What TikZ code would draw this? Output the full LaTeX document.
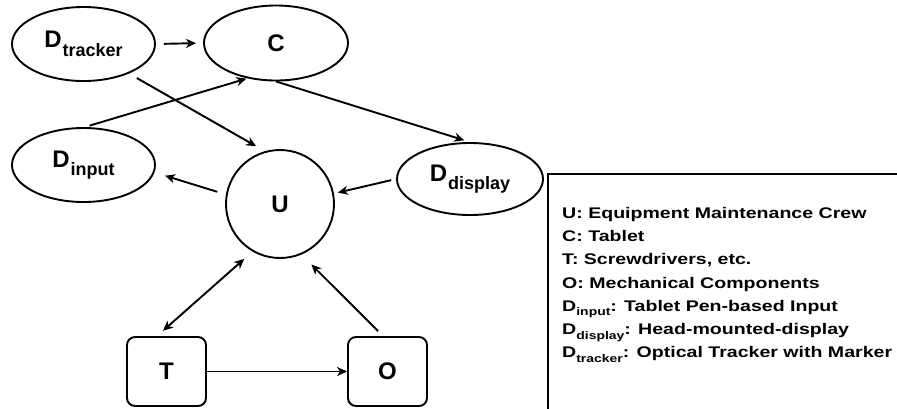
\documentclass[tikz,border=0pt]{standalone}
\usepackage{fontspec}
\setmainfont{Liberation Sans}
\newfontfamily\legfont[FakeStretch=1.27]{Liberation Sans}
\usetikzlibrary{shapes.geometric,arrows.meta}

% node label with a lowered subscript
\newcommand\nodesub[2]{#1\hspace{1pt}\raisebox{-8.5pt}{\fontsize{18}{18}\selectfont #2}}
% legend entry with a lowered subscript
\newcommand\legsub[2]{#1\raisebox{-4.5pt}{\fontsize{11}{11}\selectfont #2}}

\tikzset{
  lw/.style={line width=1.9pt},
  oval/.style={ellipse, draw, lw, inner sep=0pt, font=\fontsize{24}{24}\selectfont\bfseries},
  person/.style={circle, draw, lw, inner sep=0pt, minimum size=108pt, font=\fontsize{24}{24}\selectfont\bfseries},
  thing/.style={rectangle, rounded corners=8pt, draw, lw, inner sep=0pt,
    minimum width=79pt, minimum height=69pt, font=\fontsize{24}{24}\selectfont\bfseries},
  link/.style={lw, -{Stealth[length=10pt,width=9pt,inset=3pt]}},
  twoway/.style={lw, {Stealth[length=10pt,width=9pt,inset=3pt]}-{Stealth[length=10pt,width=9pt,inset=3pt]}},
  legline/.style={anchor=base west, inner sep=0pt, font=\legfont\bfseries\fontsize{15.4}{18}\selectfont},
}

\begin{document}
\begin{tikzpicture}[x=1pt, y=-1pt]
\useasboundingbox (0,0) rectangle (897,408);

% components
\node[oval, minimum width=143pt, minimum height=74pt] (dtr) at (83.5,44) {\nodesub{D}{tracker}};
\node[oval, minimum width=144pt, minimum height=75pt] (c) at (276,43) {C};
\node[oval, minimum width=143pt, minimum height=74pt] (di) at (83.5,165) {\nodesub{D}{input}};
\node[oval, minimum width=146pt, minimum height=72pt] (dd) at (470,179) {\nodesub{D}{display}};
\node[person] (u) at (280,204) {U};
\node[thing] (t) at (166.5,371.5) {T};
\node[thing] (o) at (387.5,371.5) {O};

% relations
\draw[link, shorten <=8pt, shorten >=7pt] (dtr.east) -- (c.west);
\draw[link, shorten <=9pt, shorten >=10pt] (dtr.-33) -- (u.106);
\draw[link, shorten <=5pt, shorten >=1pt] (di.88) -- (c.231);
\draw[link, shorten >=6pt] (c.south) -- (dd.north);
\draw[link, shorten <=9pt, shorten >=11pt] (u.170) -- (di.-6);
\draw[link, shorten <=5pt, shorten >=4pt] (dd.west) -- (u.11);
\draw[twoway, shorten <=8pt, shorten >=11pt] ([xshift=-9.5pt]t.north) -- (u.240);
\draw[link, shorten <=7pt, shorten >=14pt] ([xshift=-4.5pt]o.north) -- (u.-67);
\draw[link] (t.east) -- (o.west);

% legend
\node[draw, lw, anchor=north west, minimum width=380pt, minimum height=260pt, inner sep=0pt] (legend) at (547,173) {};
\node[legline] (l1) at (562,218.5) {U: Equipment Maintenance Crew};
\node[legline] (l2) at (562,241.7) {C: Tablet};
\node[legline] (l3) at (562,264.9) {T: Screwdrivers, etc.};
\node[legline] (l4) at (562,288.1) {O: Mechanical Components};
\node[legline] (l5) at (562,311.3) {\legsub{D}{input}: Tablet Pen-based Input};
\node[legline] (l6) at (562,334.5) {\legsub{D}{display}: Head-mounted-display};
\node[legline] (l7) at (562,357.7) {\legsub{D}{tracker}: Optical Tracker with Marker};
\end{tikzpicture}
\end{document}
